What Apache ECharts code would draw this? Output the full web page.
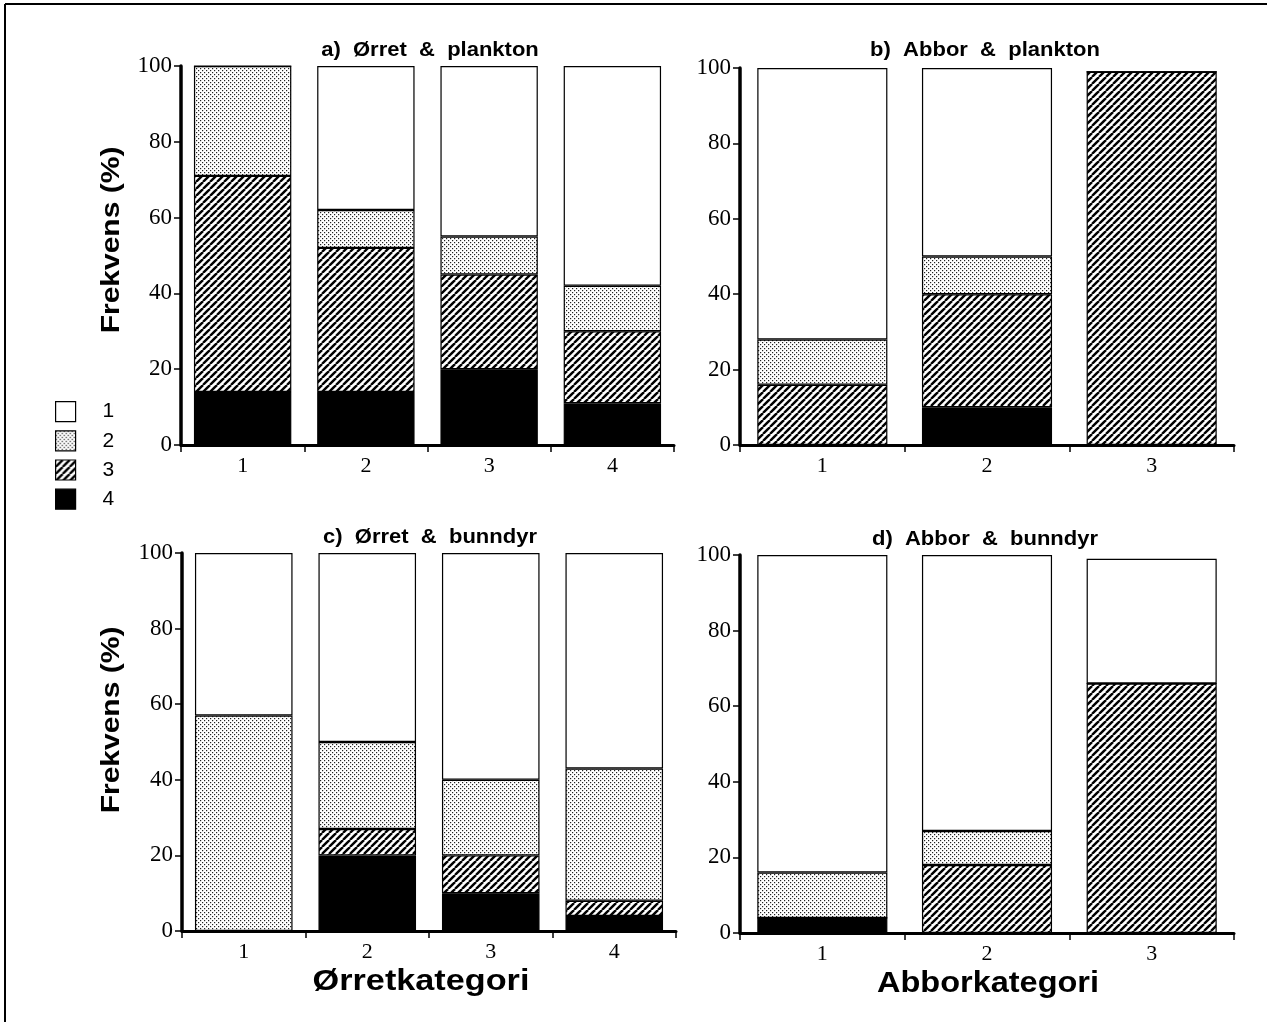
<!DOCTYPE html>
<html>
<head>
<meta charset="utf-8">
<script src="https://cdn.jsdelivr.net/npm/echarts@6/dist/echarts.min.js"></script>
<style>
  html, body { margin: 0; padding: 0; background: #fff; }
  #chart { width: 1267px; height: 1022px; }
</style>
</head>
<body>
<div id="chart"></div>
<script>
// Categories (x axis tick labels)
const orretCats = ['1', '2', '3', '4'];
const abborCats = ['1', '2', '3'];
const yTicks = [0, 20, 40, 60, 80, 100];

// Frequency (%) per diet category, stacked bottom-up: 4, 3, 2, 1
// a) Ørret & plankton
const a_k4 = [14, 14, 20, 11];
const a_k3 = [57, 38, 25, 19];
const a_k2 = [29, 10, 10, 12];
const a_k1 = [0, 38, 45, 58];
// b) Abbor & plankton
const b_k4 = [0, 10, 0];
const b_k3 = [16, 30, 99];
const b_k2 = [12, 10, 0];
const b_k1 = [72, 50, 0];
// c) Ørret & bunndyr
const c_k4 = [0, 20, 10, 4];
const c_k3 = [0, 7, 10, 4];
const c_k2 = [57, 23, 20, 35];
const c_k1 = [43, 50, 60, 57];
// d) Abbor & bunndyr
const d_k4 = [4, 0, 0];
const d_k3 = [0, 18, 66];
const d_k2 = [12, 9, 0];
const d_k1 = [84, 73, 33];

const panelTitles = ['a)  Ørret  &  plankton', 'b)  Abbor  &  plankton', 'c)  Ørret  &  bunndyr', 'd)  Abbor  &  bunndyr'];
const legendNames = ['1', '2', '3', '4'];

// Fill patterns
function hatchPattern() {
  const c = document.createElement('canvas');
  c.width = 7; c.height = 7;
  const g = c.getContext('2d');
  g.fillStyle = '#fff'; g.fillRect(0, 0, 7, 7);
  g.strokeStyle = '#000'; g.lineWidth = 2.4;
  [0, 7, 14].forEach(k => {
    g.beginPath(); g.moveTo(k - 7, 7); g.lineTo(k, 0); g.stroke();
  });
  return { image: c, repeat: 'repeat' };
}
function dotPattern() {
  const c = document.createElement('canvas');
  c.width = 4; c.height = 4;
  const g = c.getContext('2d');
  g.fillStyle = '#fff'; g.fillRect(0, 0, 4, 4);
  g.fillStyle = '#222';
  g.fillRect(0, 0, 1.2, 1.2);
  g.fillRect(2, 2, 1.2, 1.2);
  return { image: c, repeat: 'repeat' };
}
const fills = { '1': '#ffffff', '2': dotPattern(), '3': hatchPattern(), '4': '#000000' };

const serif = 'Liberation Serif';
const sans = 'Liberation Sans';

const grids = [
  { left: 181, top: 66, width: 493, height: 379 },
  { left: 740, top: 68, width: 494, height: 377 },
  { left: 182, top: 553, width: 494, height: 378 },
  { left: 740, top: 555, width: 494, height: 378 }
];
const panelCats = [orretCats, abborCats, orretCats, abborCats];
const panelData = [
  [a_k4, a_k3, a_k2, a_k1],
  [b_k4, b_k3, b_k2, b_k1],
  [c_k4, c_k3, c_k2, c_k1],
  [d_k4, d_k3, d_k2, d_k1]
];

const xAxes = panelCats.map((cats, i) => ({
  type: 'category', gridIndex: i, data: cats,
  axisLine: { lineStyle: { color: '#000', width: 3 } },
  axisTick: { show: true, length: 7, lineStyle: { color: '#000', width: 1.5 } },
  axisLabel: { color: '#000', fontFamily: serif, fontSize: 22, margin: 10 }
}));
const yAxes = panelCats.map((_, i) => ({
  type: 'value', gridIndex: i, min: yTicks[0], max: yTicks[yTicks.length - 1], interval: yTicks[1] - yTicks[0],
  axisLine: { show: true, lineStyle: { color: '#000', width: 3.5 } },
  axisTick: { show: true, length: 7, lineStyle: { color: '#000', width: 1.5 } },
  axisLabel: { color: '#000', fontFamily: serif, fontSize: 23, margin: 9 },
  splitLine: { show: false }
}));

const stackOrder = ['4', '3', '2', '1'];
const series = [];
panelData.forEach((levels, i) => {
  levels.forEach((vals, j) => {
    const name = stackOrder[j];
    series.push({
      type: 'bar', name: name, xAxisIndex: i, yAxisIndex: i, stack: 'p' + i,
      data: vals, barCategoryGap: '21%',
      itemStyle: { color: fills[name], borderColor: '#000', borderWidth: 1.2 },
      emphasis: { disabled: true }
    });
  });
});

function label(text, x, y, size, rot, sx) {
  return {
    type: 'text', x: x, y: y, rotation: rot || 0, scaleX: sx || 1.2,
    style: { text: text, font: 'bold ' + size + 'px "' + sans + '"', fill: '#000', align: 'center', verticalAlign: 'middle' }
  };
}

const graphics = [
  { type: 'line', shape: { x1: 5, y1: 4, x2: 1267, y2: 4 }, style: { stroke: '#000', lineWidth: 2 } },
  { type: 'line', shape: { x1: 5, y1: 4, x2: 5, y2: 1022 }, style: { stroke: '#000', lineWidth: 2 } },
  label(panelTitles[0], 430, 50, 20, 0, 1.1),
  label(panelTitles[1], 985, 50, 20, 0, 1.1),
  label(panelTitles[2], 430, 537, 20, 0, 1.1),
  label(panelTitles[3], 985, 539, 20, 0, 1.1),
  label('Frekvens (%)', 112, 240, 25, Math.PI / 2),
  label('Frekvens (%)', 112, 720, 25, Math.PI / 2),
  label('Ørretkategori', 421, 982, 29, 0, 1.18),
  label('Abborkategori', 988, 984, 29, 0, 1.12)
];

const chart = echarts.init(document.getElementById('chart'), null, { renderer: 'canvas' });
chart.setOption({
  animation: false,
  backgroundColor: '#fff',
  legend: {
    data: legendNames, orient: 'vertical', left: 55, top: 401, padding: 0,
    icon: 'rect', itemWidth: 20, itemHeight: 20, itemGap: 8,
    selectedMode: false,
    itemStyle: { borderColor: '#000', borderWidth: 1.2 },
    textStyle: { color: '#000', fontFamily: sans, fontSize: 21, padding: [0, 0, 0, 22] }
  },
  grid: grids,
  xAxis: xAxes,
  yAxis: yAxes,
  series: series,
  graphic: graphics
});
</script>
</body>
</html>
